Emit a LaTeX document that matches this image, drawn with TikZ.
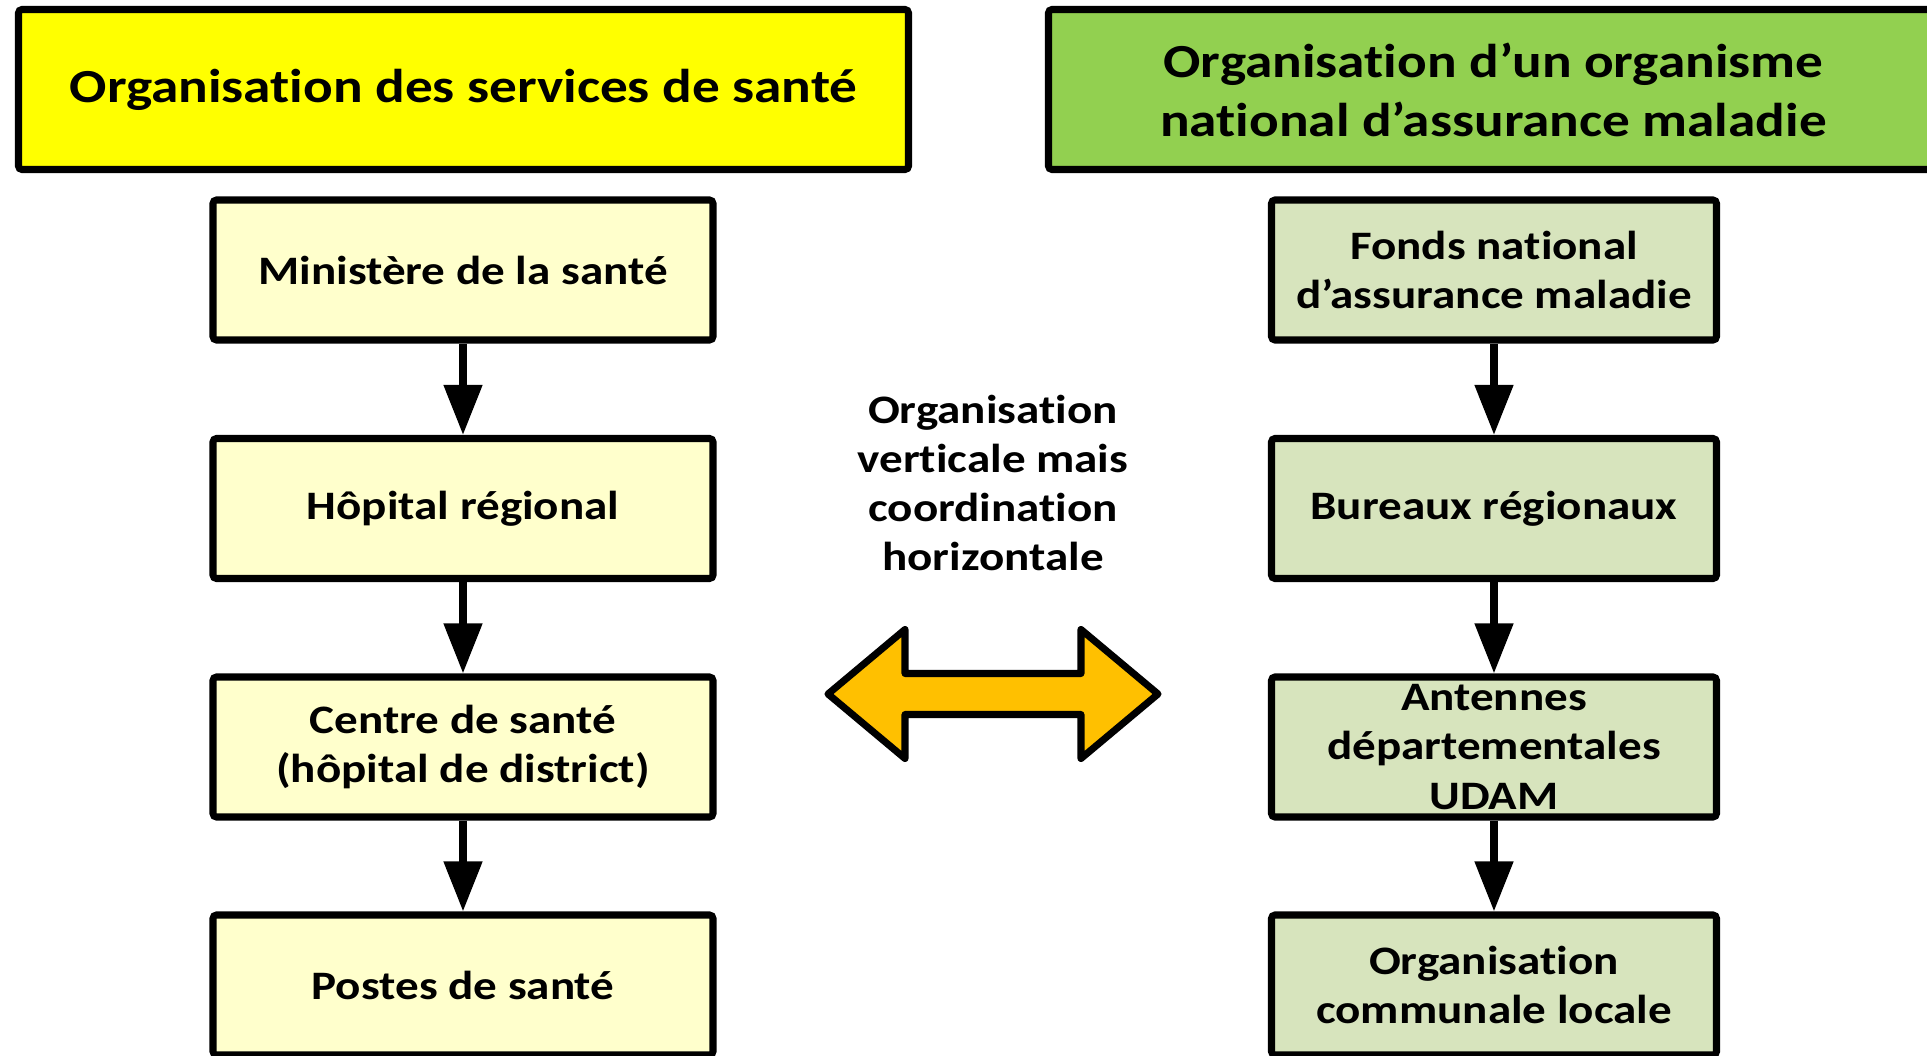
\documentclass[tikz,border=0pt]{standalone}
\usepackage{fontspec}
\setmainfont{Carlito}[Ligatures=NoCommon, FakeStretch=1.165]
\usetikzlibrary{arrows.meta}
\definecolor{headyellow}{HTML}{FFFF00}
\definecolor{headgreen}{HTML}{92D050}
\definecolor{paleyellow}{HTML}{FFFFCC}
\definecolor{palegreen}{HTML}{D7E4BD}
\definecolor{arrowgold}{HTML}{FFC000}

\begin{document}
\begin{tikzpicture}[
    box/.style={draw=black, line width=2pt, rounded corners=1pt, align=center, inner sep=0pt,
      font=\fontsize{11.5}{14}\selectfont\bfseries},
    head/.style={box, minimum width=8.9cm, minimum height=1.6cm,
      font=\fontsize{13.5}{16.8}\selectfont\bfseries},
    lbox/.style={box, fill=paleyellow, minimum width=5.0cm, minimum height=1.4cm},
    rbox/.style={box, fill=palegreen, minimum width=4.45cm, minimum height=1.4cm},
    down/.style={-{Triangle[width=0.37cm,length=0.5cm]}, line width=2.2pt}
  ]
      \clip (0,0) rectangle (19.27,10.55);
      \node[head, fill=headyellow] (hl) at (4.635,9.655) {Organisation des services de santé};
      \node[head, fill=headgreen]  (hr) at (14.935,9.655) {Organisation d’un organisme\\national d’assurance maladie};

      \node[lbox] (l1) at (4.63,7.85)  {Ministère de la santé};
      \node[lbox] (l2) at (4.63,5.465) {Hôpital régional};
      \node[lbox] (l3) at (4.63,3.08)  {Centre de santé\\(hôpital de district)};
      \node[lbox] (l4) at (4.63,0.70)  {Postes de santé};

      \node[rbox] (r1) at (14.94,7.85)  {Fonds national\\d’assurance maladie};
      \node[rbox] (r2) at (14.94,5.465) {Bureaux régionaux};
      \node[rbox] (r3) at (14.94,3.08)  {Antennes\\départementales\\UDAM};
      \node[rbox] (r4) at (14.94,0.70)  {Organisation\\communale locale};

      \foreach \a/\b in {l1/l2,l2/l3,l3/l4,r1/r2,r2/r3,r3/r4}
        \draw[down] (\a) -- (\b);

      \node[align=center, font=\fontsize{11.5}{14}\selectfont\bfseries] (mid) at (9.93,5.72)
        {Organisation\\verticale mais\\coordination\\horizontale};

      \coordinate (link) at (9.93,3.61);
      \filldraw[fill=arrowgold, draw=black, line width=2pt, line join=round]
        (link) ++(-1.65,0) -- ++(0.77,0.645) -- ++(0,-0.44) -- ++(1.76,0) -- ++(0,0.44)
        -- ++(0.77,-0.645) -- ++(-0.77,-0.645) -- ++(0,0.44) -- ++(-1.76,0) -- ++(0,-0.44) -- cycle;
    \end{tikzpicture}
\end{document}
